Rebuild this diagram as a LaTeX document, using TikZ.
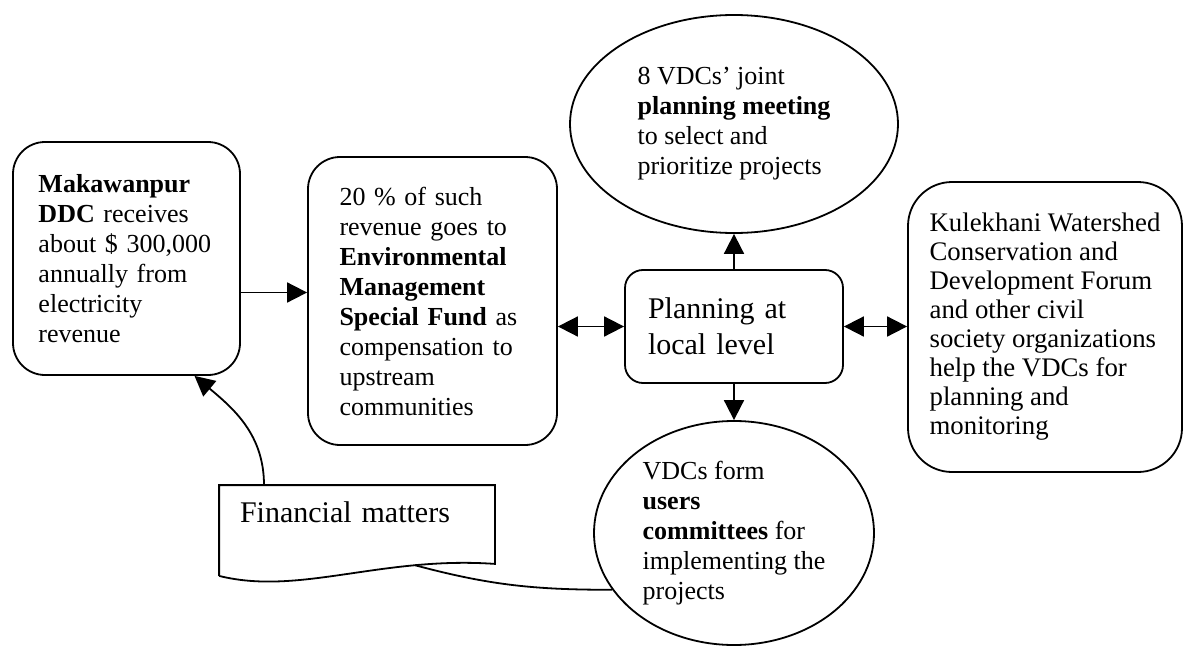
\documentclass[tikz,border=0pt]{standalone}
\usepackage{fontspec}
\setmainfont{Liberation Serif}
\usetikzlibrary{arrows.meta,shapes.geometric}

\begin{document}
\begin{tikzpicture}[x=0.5pt,y=-0.5pt,->,>={Triangle[length=10pt,width=10pt]},line width=0.9pt,
  every node/.style={font=\fontsize{13}{15}\selectfont,align=left,inner sep=0pt},
  box/.style={draw,rounded corners=#1},box/.default=16pt,
  oval/.style={draw,ellipse},
  big/.style={font=\fontsize{15}{18}\selectfont}]
  \useasboundingbox (0,0) rectangle (1185,648);
  % boxes
  \node[box,minimum width=113.5pt,minimum height=116.5pt,text width=88pt] (ddc) at (126.5,258.5)
    {\textbf{Makawanpur}\\\textbf{DDC} receives\\\mbox{about \$ 300,000}\\annually from\\electricity\\revenue};
  \node[box,minimum width=124.5pt,minimum height=144pt,text width=93pt] (fund) at (432.5,301)
    {20 \% of such\\revenue goes to\\\textbf{Environmental}\\\textbf{Management}\\\textbf{Special Fund} as\\compensation to\\upstream\\communities};
  \node[box=9pt,big,minimum width=109pt,minimum height=56.5pt,text width=86pt] (plan) at (734,326.5)
    {Planning at\\local level};
  \node[box=22pt,minimum width=137pt,minimum height=145pt,font=\fontsize{13.4}{14.5}\selectfont] (forum) at (1045,327)
    {Kulekhani Watershed\\Conservation and\\Development Forum\\and other civil\\society organizations\\help the VDCs for\\planning and\\monitoring};
  \node[oval,minimum width=164pt,minimum height=109pt] (meet) at (734,124)
    {8 VDCs' joint\\\textbf{planning meeting}\\to select and\\prioritize projects};
  \node[oval,minimum width=140pt,minimum height=112pt] (users) at (734,533)
    {VDCs form\\\textbf{users}\\\textbf{committees} for\\implementing the\\projects};
  \node[big,minimum width=137pt,minimum height=38.5pt,text width=117pt,text depth=12pt] (fin) at (357,524.5)
    {Financial matters};
  \draw[-] ([yshift=-6pt]fin.south west) -- (fin.north west) -- (fin.north east) -- (fin.south east)
    .. controls +(-114,-8) and +(80,20) .. ([yshift=-6pt]fin.south west) coordinate[pos=0.25] (wave);
  % arrows
  \coordinate (ab) at ([yshift=-17pt]ddc.east);
  \draw (ab) -- (ab -| fund.west);
  \draw[<->] (plan.west -| fund.east) -- (plan.west);
  \draw[<->] (plan.east) -- (plan.east -| forum.west);
  \draw (plan.north) -- (meet.south);
  \draw (plan.south) -- (users.north);
  \draw ([xshift=-46.5pt]fin.north) to[out=90,in=-40] ([xshift=34pt]ddc.south);
  \draw[-] (users.205) to[out=180,in=-15] (wave);
\end{tikzpicture}
\end{document}
